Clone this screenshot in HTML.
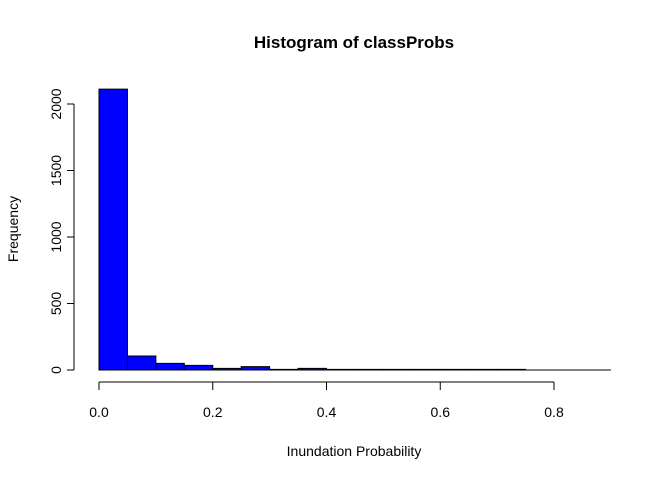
<!DOCTYPE html>
<html><head><meta charset="utf-8"><style>
body{margin:0;background:#fff;}
svg{display:block;font-family:"Liberation Sans",Arial,sans-serif;}
</style></head><body>
<svg id="c" width="672" height="480">
<text x="354" y="48" text-anchor="middle" font-weight="bold" font-size="17">Histogram of classProbs</text>
<text x="354" y="456" text-anchor="middle" font-size="14">Inundation Probability</text>
<text transform="translate(18,229) rotate(-90)" text-anchor="middle" font-size="14">Frequency</text>
<g id="bars"></g><g id="axes"></g>
</svg>
<script>
const breaks=[0,0.05,0.1,0.15,0.2,0.25,0.3,0.35,0.4,0.45,0.5,0.55,0.6,0.65,0.7,0.75,0.8,0.85,0.9];
const counts=[2112,105,50,35,12,25,5,12,5,5,5,5,5,5,5,0,0,0];
const xTicks=[0,0.2,0.4,0.6,0.8];
const xTickLabels=["0.0","0.2","0.4","0.6","0.8"];
const yTicks=[0,500,1000,1500,2000];
const ns="http://www.w3.org/2000/svg";
const X=v=>99+v*568.75;
const Y=v=>370-v*0.133;
const bars=document.getElementById('bars'),axes=document.getElementById('axes');
function mk(t,a,p){const e=document.createElementNS(ns,t);for(const k in a)e.setAttribute(k,a[k]);p.appendChild(e);return e;}
counts.forEach((c,i)=>{
 const x0=X(breaks[i]),x1=X(breaks[i+1]),y=Y(c),y0=Y(0);
 const r=mk('path',{d:`M${x0},${y0}V${y}H${x1}V${y0}Z`,fill:'#0000ff',stroke:'#000','stroke-width':1},bars);
 
 
});
const xa=mk('line',{x1:X(xTicks[0]),x2:X(xTicks[xTicks.length-1]),y1:382,y2:382,stroke:'#000'},axes);


xTicks.forEach((v,i)=>{
 mk('line',{x1:X(v),x2:X(v),y1:382,y2:390,stroke:'#000'},axes);
 const t=mk('text',{x:X(v),y:417,'text-anchor':'middle','font-size':14},axes);
 t.textContent=xTickLabels[i];
 
 
});
const ya=mk('line',{x1:74,x2:74,y1:Y(yTicks[0]),y2:Y(yTicks[yTicks.length-1]),stroke:'#000'},axes);


yTicks.forEach(v=>{
 mk('line',{x1:67,x2:74,y1:Y(v),y2:Y(v),stroke:'#000'},axes);
 const t=mk('text',{transform:`translate(61,${Y(v)}) rotate(-90)`,'text-anchor':'middle','font-size':14},axes);
 t.textContent=v;
 
 
});
</script>
</body></html>
